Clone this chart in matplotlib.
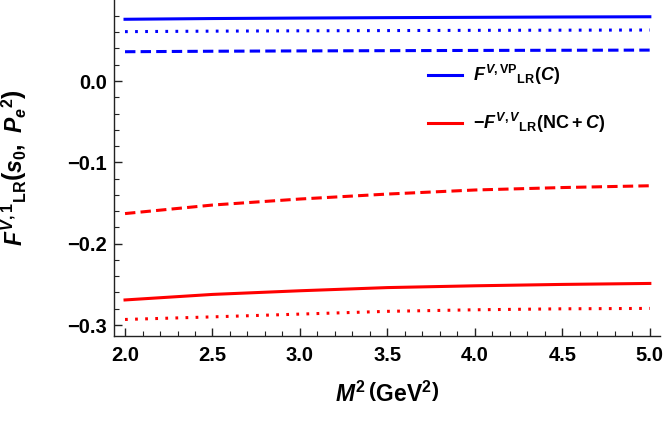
import numpy as np
import matplotlib
matplotlib.use("Agg")
import matplotlib.pyplot as plt
from matplotlib.ticker import MultipleLocator

plt.rcParams['font.family'] = 'Liberation Sans'
plt.rcParams['font.weight'] = 'bold'
plt.rcParams['mathtext.fontset'] = 'custom'
plt.rcParams['mathtext.rm'] = 'Liberation Sans:bold'
plt.rcParams['mathtext.it'] = 'Liberation Sans:bold:italic'
plt.rcParams['mathtext.bf'] = 'Liberation Sans:bold'

# M^2 values (GeV^2)
m2 = [2.0, 2.5, 3.0, 3.5, 4.0, 4.5, 5.0]

# F^{V,VP}_LR (C) - blue
blue_solid = [0.0759, 0.0768, 0.0774, 0.0779, 0.0783, 0.0787, 0.0790]
blue_dot = [0.0607, 0.0613, 0.0617, 0.0620, 0.0623, 0.0625, 0.0627]
blue_dash = [0.0360, 0.0366, 0.0370, 0.0373, 0.0376, 0.0378, 0.0380]

# -F^{V,V}_LR (NC + C) - red
red_dash = [-0.1630, -0.1525, -0.1451, -0.1390, -0.1340, -0.1310, -0.1288]
red_solid = [-0.2692, -0.2624, -0.2579, -0.2540, -0.2518, -0.2501, -0.2489]
red_dot = [-0.2932, -0.2900, -0.2866, -0.2832, -0.2813, -0.2801, -0.2796]

fig = plt.figure(figsize=(6.64, 4.28), dpi=100)
ax = fig.add_axes([0.1717, 0.215, 0.822, 0.785])

lw = 2.2
dotted = (0, (0.9, 2.4))
dashed = (0, (3.4, 1.7))

ax.plot(m2, blue_solid, color='#0000ff', lw=lw, label=r'$F^{V,\mathrm{VP}}{}_{\mathrm{LR}}(C)$')
ax.plot(m2, blue_dot, color='#0000ff', lw=lw, linestyle=dotted)
ax.plot(m2, blue_dash, color='#0000ff', lw=lw, linestyle=dashed)
ax.plot(m2, red_solid, color='#ff0000', lw=lw, label=r'$-F^{V,V}{}_{\mathrm{LR}}(\mathrm{NC}+C)$')
ax.plot(m2, red_dot, color='#ff0000', lw=lw, linestyle=dotted)
ax.plot(m2, red_dash, color='#ff0000', lw=lw, linestyle=dashed)

ax.set_xlim(1.937, 5.057)
ax.set_ylim(-0.3135, 0.0996)

ax.xaxis.set_major_locator(MultipleLocator(0.5))
ax.xaxis.set_minor_locator(MultipleLocator(0.1))
ax.yaxis.set_major_locator(MultipleLocator(0.1))
ax.yaxis.set_minor_locator(MultipleLocator(0.02))
ax.xaxis.set_major_formatter(plt.FuncFormatter(lambda v, p: f'{v:.1f}'))
ax.yaxis.set_major_formatter(plt.FuncFormatter(lambda v, p: f'{v:.1f}'.replace('-', '\u2212')))

ax.tick_params(which='major', direction='in', length=6, width=1, labelsize=14.5, colors='#222222', labelcolor='black')
ax.tick_params(which='minor', direction='in', length=3.5, width=0.8, colors='#222222')
ax.tick_params(axis='x', pad=7)
ax.tick_params(axis='y', pad=5)

for s in ['top', 'right']:
    ax.spines[s].set_visible(False)
for s in ['left', 'bottom']:
    ax.spines[s].set_color('#222222')
    ax.spines[s].set_linewidth(1)

ax.set_xlabel(r'$M^2\,\left(\mathrm{GeV}^2\right)$', fontsize=16.5)
ax.xaxis.set_label_coords(0.5, -0.135)
ax.set_ylabel(r'$F^{V,1}{}_{\mathrm{LR}}\left(s_0,\ P_e{}^2\right)$', fontsize=16.5)
ax.yaxis.set_label_coords(-0.155, 0.5)

fig.legend(loc='center left', bbox_to_anchor=(428 / 664, 1 - 99 / 428), frameon=False,
           fontsize=13, handlelength=1.9, labelspacing=1.3, handletextpad=0.6,
           borderpad=0, borderaxespad=0)

fig.savefig('out.png', dpi=100)
